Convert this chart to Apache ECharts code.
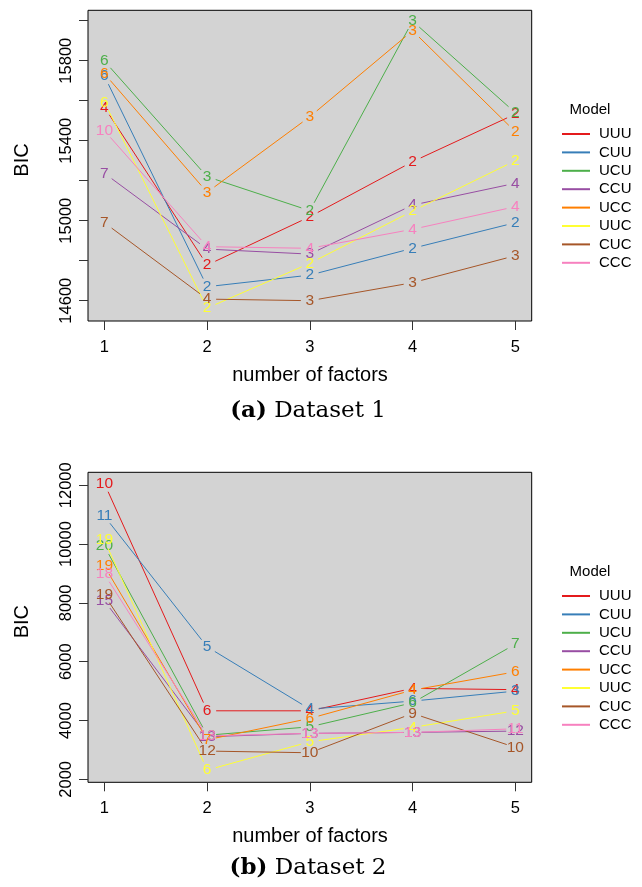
<!DOCTYPE html>
<html>
<head>
<meta charset="utf-8">
<script src="https://cdn.jsdelivr.net/npm/echarts@6/dist/echarts.min.js"></script>
<style>html,body{margin:0;padding:0;background:#fff;}#c{width:642px;height:887px;}</style>
</head>
<body>
<div id="c"></div>
<script>
// ---- data ----
const factors = [1, 2, 3, 4, 5];
const models = ['UUU', 'CUU', 'UCU', 'CCU', 'UCC', 'UUC', 'CUC', 'CCC'];
const colors = ['#E41A1C', '#377EB8', '#4DAF4A', '#984EA3', '#FF7F00', '#FFFF33', '#A65628', '#F781BF'];

// Dataset 1: BIC values
const d1UUU = [15567, 14778, 15020, 15295, 15533];
const d1CUU = [15723, 14670, 14728, 14862, 14990];
const d1UCU = [15798, 15220, 15050, 15998, 15540];
const d1CCU = [15237, 14858, 14833, 15078, 15187];
const d1UCC = [15735, 15142, 15520, 15950, 15445];
const d1UUC = [15592, 14563, 14787, 15048, 15300];
const d1CUC = [14990, 14608, 14600, 14690, 14825];
const d1CCC = [15450, 14870, 14862, 14957, 15070];
// Dataset 1: point labels (number of clusters)
const g1UUU = [4, 2, 2, 2, 2];
const g1CUU = [6, 2, 2, 2, 2];
const g1UCU = [6, 3, 2, 3, 2];
const g1CCU = [7, 4, 3, 4, 4];
const g1UCC = [6, 3, 3, 3, 2];
const g1UUC = [6, 2, 2, 2, 2];
const g1CUC = [7, 4, 3, 3, 3];
const g1CCC = [10, 4, 4, 4, 4];

// Dataset 2: BIC values
const d2UUU = [12058, 4331, 4330, 5092, 5050];
const d2CUU = [10947, 6506, 4389, 4661, 5000];
const d2UCU = [9927, 3500, 3787, 4603, 6597];
const d2CCU = [8069, 3450, 3563, 3597, 3641];
const d2UCC = [9248, 3346, 4073, 5034, 5656];
const d2UUC = [10132, 2316, 3278, 3767, 4331];
const d2CUC = [8263, 2962, 2904, 4243, 3087];
const d2CCC = [8976, 3480, 3563, 3597, 3719];
// Dataset 2: point labels
const g2UUU = [10, 6, 4, 4, 4];
const g2CUU = [11, 5, 4, 6, 3];
const g2UCU = [20, 13, 5, 6, 7];
const g2CCU = [15, 13, 13, 13, 12];
const g2UCC = [19, 7, 6, 4, 6];
const g2UUC = [19, 6, 5, 4, 5];
const g2CUC = [19, 12, 10, 9, 10];
const g2CCC = [18, 13, 13, 13, 11];

// tick values
const yTicks1 = [14600, 14800, 15000, 15200, 15400, 15600, 15800, 16000];
const yLabels1 = [14600, 15000, 15400, 15800];
const yTicks2 = [2000, 4000, 6000, 8000, 10000, 12000];

// ---- build ----
const FONT = '"Liberation Sans", Arial, sans-serif';
const set1 = [d1UUU, d1CUU, d1UCU, d1CCU, d1UCC, d1UUC, d1CUC, d1CCC];
const lab1 = [g1UUU, g1CUU, g1UCU, g1CCU, g1UCC, g1UUC, g1CUC, g1CCC];
const set2 = [d2UUU, d2CUU, d2UCU, d2CCU, d2UCC, d2UUC, d2CUC, d2CCC];
const lab2 = [g2UUU, g2CUU, g2UCU, g2CCU, g2UCC, g2UUC, g2CUC, g2CCC];

function makeRender(vals, labs, color) {
  return function (params, api) {
    const i = params.dataIndex;
    const p = api.coord([factors[i], vals[i]]);
    const children = [{
      type: 'text',
      style: { text: String(labs[i]), x: p[0], y: p[1], fill: color, fontSize: 15.5, fontFamily: FONT, align: 'center', verticalAlign: 'middle' }
    }];
    if (i < vals.length - 1) {
      const q = api.coord([factors[i + 1], vals[i + 1]]);
      const dx = q[0] - p[0], dy = q[1] - p[1], L = Math.hypot(dx, dy), g = 9;
      if (L > 2 * g) {
        children.push({
          type: 'line',
          shape: { x1: p[0] + dx / L * g, y1: p[1] + dy / L * g, x2: q[0] - dx / L * g, y2: q[1] - dy / L * g },
          style: { stroke: color, lineWidth: 1 }
        });
      }
    }
    return { type: 'group', children: children };
  };
}

const series = [];
[[set1, lab1, 0], [set2, lab2, 1]].forEach(function (s) {
  const sets = s[0], labs = s[1], idx = s[2];
  models.forEach(function (m, k) {
    series.push({
      type: 'custom',
      name: m,
      xAxisIndex: idx,
      yAxisIndex: idx,
      clip: false,
      itemStyle: { color: colors[k] },
      encode: { x: 0, y: 1 },
      data: factors.map(function (x, i) { return [x, sets[k][i]]; }),
      renderItem: makeRender(sets[k], labs[k], colors[k])
    });
  });
});

function plain(v) { return String(v); }

function xAxis(gi) {
  return {
    type: 'value', gridIndex: gi, min: 0.84, max: 5.16,
    axisLine: { show: false },
    splitLine: { show: false },
    axisTick: { show: true, length: 9, customValues: factors, lineStyle: { color: '#333' } },
    axisLabel: { customValues: factors, formatter: plain, fontSize: 16.5, fontFamily: FONT, color: '#000', margin: 18 }
  };
}
function yAxis(gi, min, max, ticks, labels) {
  return {
    type: 'value', gridIndex: gi, min: min, max: max,
    axisLine: { show: false },
    splitLine: { show: false },
    axisTick: { show: true, length: 9, customValues: ticks, lineStyle: { color: '#333' } },
    axisLabel: { customValues: labels, formatter: plain, rotate: 90, fontSize: 16.5, fontFamily: FONT, color: '#000', margin: 13 }
  };
}

function legend(top) {
  return {
    orient: 'vertical', left: 557, top: top, data: models,
    icon: 'rect', itemWidth: 28, itemHeight: 2, itemGap: 2.4,
    selectedMode: false,
    textStyle: { fontSize: 15, fontFamily: FONT, color: '#000', lineHeight: 16, padding: [0, 0, 0, 4] }
  };
}

function txt(x, y, text, size, rot) {
  return {
    type: 'text', x: x, y: y, rotation: rot || 0,
    style: { text: text, fontSize: size, fontFamily: FONT, fill: '#000', align: 'center', verticalAlign: 'middle' }
  };
}
function cap(x, y, a, b) {
  return {
    type: 'text', x: x, y: y,
    style: {
      text: '{b|' + a + '} ' + b,
      fontSize: 23, fontFamily: '"DejaVu Serif", serif', fill: '#000', align: 'center', verticalAlign: 'middle',
      rich: { b: { fontWeight: 'bold', fontSize: 23, fontFamily: '"DejaVu Serif", serif' } }
    }
  };
}

const option = {
  animation: false,
  backgroundColor: '#fff',
  grid: [
    { left: 88, top: 10.3, width: 443.7, height: 310.7, show: true, backgroundColor: '#d3d3d3', borderColor: '#000', borderWidth: 1 },
    { left: 88, top: 472.3, width: 443.7, height: 310, show: true, backgroundColor: '#d3d3d3', borderColor: '#000', borderWidth: 1 }
  ],
  xAxis: [xAxis(0), xAxis(1)],
  yAxis: [
    yAxis(0, 14498.5, 16052, yTicks1, yLabels1),
    yAxis(1, 1900, 12440, yTicks2, yTicks2)
  ],
  legend: [legend(121), legend(583)],
  graphic: [
    txt(22.7, 160, 'BIC', 20, Math.PI / 2),
    txt(22.7, 621.7, 'BIC', 20, Math.PI / 2),
    txt(310, 375, 'number of factors', 20),
    txt(310, 836.7, 'number of factors', 20),
    txt(590, 110, 'Model', 15),
    txt(590, 571.7, 'Model', 15),
    cap(308, 411, '(a)', 'Dataset 1'),
    cap(308, 868, '(b)', 'Dataset 2')
  ],
  series: series
};

const chart = echarts.init(document.getElementById('c'), null, { renderer: 'canvas' });
chart.setOption(option);
</script>
</body>
</html>
